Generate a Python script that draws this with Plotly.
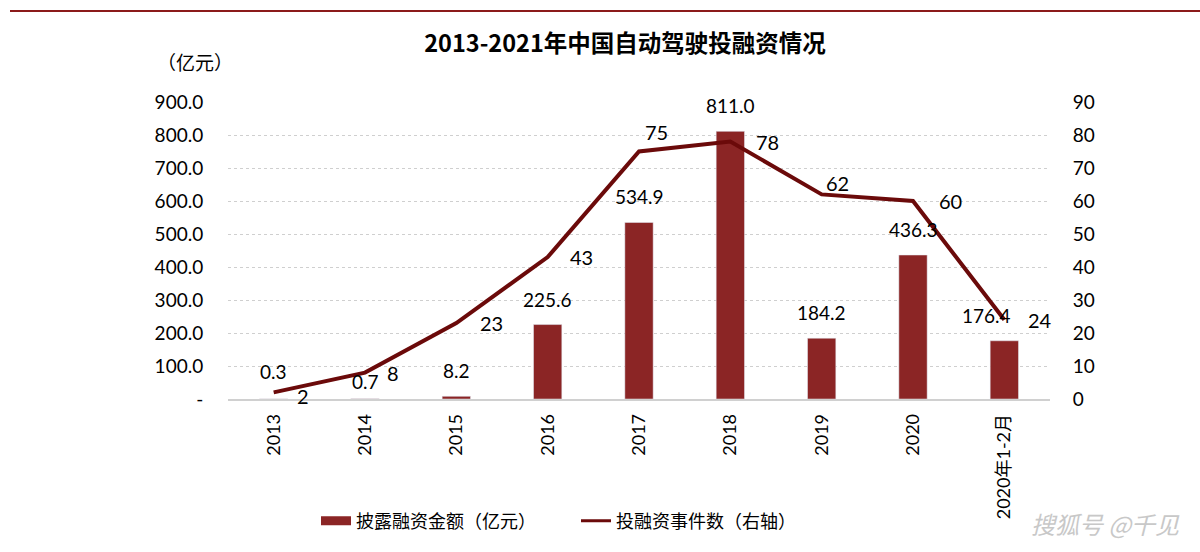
import plotly.graph_objects as go

categories = ["2013", "2014", "2015", "2016", "2017", "2018", "2019", "2020", "2020年1-2月"]
amounts = [0.3, 0.7, 8.2, 225.6, 534.9, 811.0, 184.2, 436.3, 176.4]
events = [2, 8, 23, 43, 75, 78, 62, 60, 24]
left_ticks = [0, 100, 200, 300, 400, 500, 600, 700, 800, 900]
left_tick_text = ["-", "100.0", "200.0", "300.0", "400.0", "500.0", "600.0", "700.0", "800.0", "900.0"]
right_ticks = [0, 10, 20, 30, 40, 50, 60, 70, 80, 90]

BAR_COLOR = "#8B2525"
LINE_COLOR = "#6B0A0A"
NUM_FONT = "Lato, Carlito, Liberation Sans, sans-serif"
CJK_FONT = "Noto Sans CJK SC, sans-serif"

# label offsets (pixels)
line_dx = [29, 28, 35, 34, 17, 37, 16, 37, 36]
line_dy = [-4, 0, 0, 0, 20, 0, 11, 0, 0]
bar_dx = [0, 0, 0, 0, 0, 0, 0, 0, -18]
bar_dy = [14, 4, 12, 12, 12, 12, 12, 12, 12]

fig = go.Figure()

fig.add_trace(go.Bar(
    x=categories, y=amounts, name="披露融资金额（亿元）",
    marker=dict(color=BAR_COLOR), showlegend=False,
))

fig.add_trace(go.Scatter(
    x=categories, y=events, yaxis="y2", name="投融资事件数（右轴）",
    mode="lines", line=dict(color=LINE_COLOR, width=4),
    cliponaxis=False, showlegend=False,
))

# legend proxies
fig.add_trace(go.Scatter(x=[None], y=[None], mode="lines", name="披露融资金额（亿元）",
                         line=dict(color=BAR_COLOR, width=9)))
fig.add_trace(go.Scatter(x=[None], y=[None], mode="lines", name="投融资事件数（右轴）",
                         line=dict(color=LINE_COLOR, width=3), yaxis="y2"))

for i, (v, dx, dy) in enumerate(zip(amounts, bar_dx, bar_dy)):
    fig.add_annotation(x=i, y=v, xref="x", yref="y", text=f"{v:.1f}", showarrow=False,
                       xanchor="center", yanchor="bottom", xshift=dx, yshift=dy,
                       font=dict(family=NUM_FONT, size=19, color="#000"))

for i, (v, dx, dy) in enumerate(zip(events, line_dx, line_dy)):
    fig.add_annotation(x=i, y=v, xref="x", yref="y2", text=str(v), showarrow=False,
                       xanchor="center", yanchor="middle", xshift=dx, yshift=dy,
                       font=dict(family=NUM_FONT, size=20, color="#000"))

fig.update_layout(
    width=1200, height=552,
    margin=dict(l=228, r=150, t=102, b=153, autoexpand=False),
    paper_bgcolor="white", plot_bgcolor="white",
    bargap=0.69,
    title=dict(text="<b>2013-2021年中国自动驾驶投融资情况</b>", x=625/1200, xanchor="center",
               y=1 - 44/552, yanchor="middle",
               font=dict(family=CJK_FONT, size=23.5, color="#000")),
    xaxis=dict(type="category", categoryorder="array", categoryarray=categories,
               range=[-0.5, len(categories) - 0.5],
               tickangle=-90, showgrid=False, automargin=False,
               tickfont=dict(family=NUM_FONT + ", " + CJK_FONT, size=18, color="#000"),
               showline=True, linecolor="#D0D0D0", linewidth=1.5, ticks="outside",
               ticklen=6, tickcolor="rgba(0,0,0,0)"),
    yaxis=dict(range=[0, 900], tickvals=left_ticks, ticktext=left_tick_text, automargin=False,
               tickfont=dict(family=NUM_FONT, size=19, color="#000"),
               showgrid=True, gridcolor="#CFCFCF", griddash="dot", gridwidth=1,
               zeroline=False, showline=False, ticks="outside", ticklen=20,
               tickcolor="rgba(0,0,0,0)"),
    yaxis2=dict(range=[0, 90], tickvals=right_ticks, overlaying="y", side="right",
                automargin=False,
                tickfont=dict(family=NUM_FONT, size=19, color="#000"),
                showgrid=False, zeroline=False, showline=False,
                ticks="outside", ticklen=18, tickcolor="rgba(0,0,0,0)"),
    legend=dict(orientation="h", x=(316 - 228) / 822, xanchor="left",
                y=-122 / 297, yanchor="middle", entrywidth=215,
                font=dict(family=CJK_FONT, size=18, color="#000")),
    showlegend=True,
)

fig.add_annotation(text="（亿元）", xref="paper", yref="paper", x=(195 - 228) / 822,
                   y=1 + 40 / 297, showarrow=False, xanchor="center", yanchor="middle",
                   font=dict(family=CJK_FONT, size=19, color="#000"))
fig.add_annotation(text="<i>搜狐号 @千见</i>", xref="paper", yref="paper",
                   x=(1182 - 228) / 822, y=-124 / 297, showarrow=False,
                   xanchor="right", yanchor="middle",
                   font=dict(family=CJK_FONT, size=24, color="#C8C8C8"))
fig.add_shape(type="line", xref="paper", yref="paper", x0=(10 - 228) / 822, x1=(1200 - 228) / 822,
              y0=1 + 91 / 297, y1=1 + 91 / 297, line=dict(color="#8B1A1A", width=2))

fig.write_html("out.html", config={"displayModeBar": False},
               post_script="document.body.style.margin='0';")
